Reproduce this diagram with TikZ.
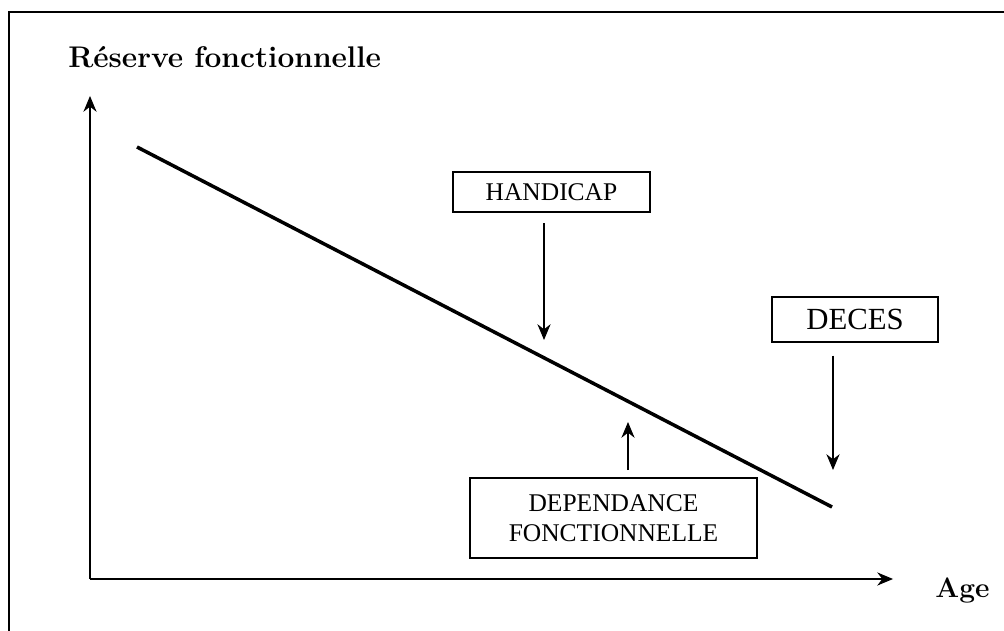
\documentclass[tikz,border=0pt]{standalone}
\usepackage{fontspec}
\newfontfamily\boxfont{Liberation Serif}
\usetikzlibrary{arrows.meta,positioning}

\begin{document}
\begin{tikzpicture}[x=0.02cm,y=-0.02cm]
	\tikzstyle{every node}=[font=\boxfont\fontsize{14.5}{17}\selectfont]
	\tikzstyle{event}=[draw, line width=0.85pt, inner sep=0pt, align=center]
	\tikzstyle{pointer}=[line width=0.6pt, -{Stealth[length=9pt,width=7.5pt]}]
	\tikzstyle{axislabel}=[font=\rmfamily\bfseries\fontsize{17}{20}\selectfont, anchor=base west, inner sep=0pt]
	\useasboundingbox (0,0) rectangle (1004,631);
	% cadre
	\draw [line width=0.8pt] (9,631) -- (9,12) -- (1004,12);
	% axes
	\coordinate (O) at (90,579);
	\coordinate (ymax) at (90,96);
	\coordinate (xmax) at (893,579);
	\draw [pointer] (O) -- (ymax);
	\draw [pointer] (O) -- (xmax);
	\node [axislabel] (ylab) at (68,68) {Réserve fonctionnelle};
	\node [axislabel, font=\rmfamily\bfseries\fontsize{16}{19}\selectfont] (xlab) at (935,597) {Age};
	% declin de la reserve
	\coordinate (start) at (137,147);
	\coordinate (stop) at (832,507);
	\draw [line width=2pt] (start) -- (stop);
	% evenements
	\node [event, minimum width=3.94cm, minimum height=0.8cm] (handicap) at (551.5,192) {HANDICAP};
	\node [event, minimum width=3.32cm, minimum height=0.9cm, font=\boxfont\fontsize{17.5}{20}\selectfont] (deces) at (855,319.5) {DECES};
	\node [event, minimum width=5.74cm, minimum height=1.6cm] (dependance) at (613.5,518) {DEPENDANCE\\FONCTIONNELLE};
	\coordinate (hcend) at (544,340);
	\coordinate (dcend) at (833,470);
	\coordinate (dpend) at (628,422);
	\draw [pointer, shorten <=6pt] (handicap.south -| hcend) -- (hcend);
	\draw [pointer, shorten <=7.4pt] (deces.south -| dcend) -- (dcend);
	\draw [pointer, shorten <=4pt] (dependance.north -| dpend) -- (dpend);
\end{tikzpicture}
\end{document}
